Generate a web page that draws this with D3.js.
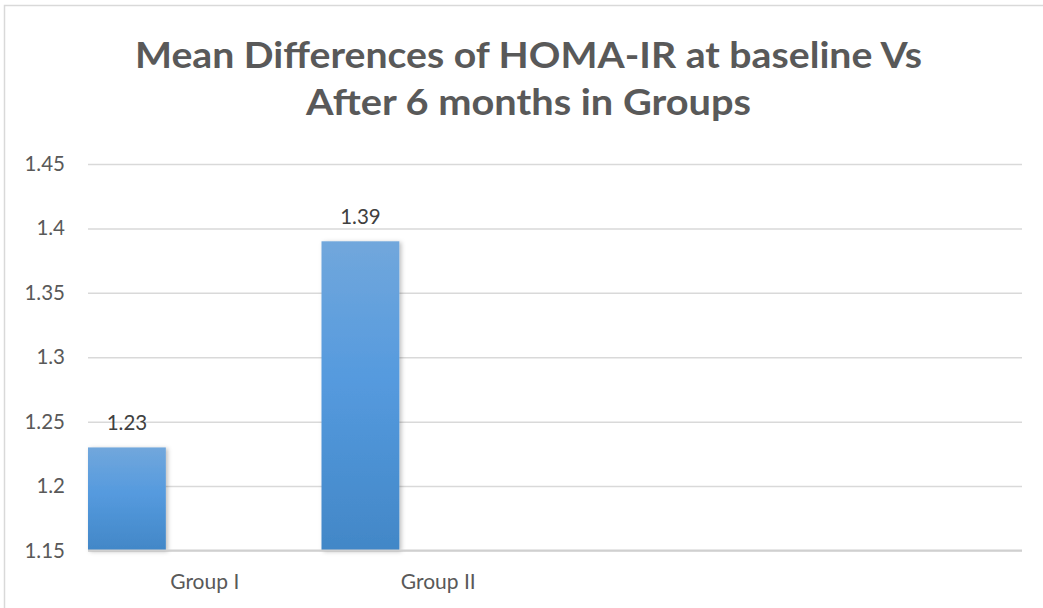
<!DOCTYPE html>
<html>
<head>
<meta charset="utf-8">
<script src="https://cdn.jsdelivr.net/npm/d3@7"></script>
<style>
  html, body { margin: 0; padding: 0; background: #fff; }
  svg { display: block; }
</style>
</head>
<body>
<script>
// ---- data ----
const titleLines = ["Mean Differences of HOMA-IR at baseline Vs", "After 6 months in Groups"];
const categories = ["Group I", "Group II", "", ""];
const values = [1.23, 1.39, null, null];
const valueLabels = ["1.23", "1.39", "", ""];
const yTicks = [1.15, 1.2, 1.25, 1.3, 1.35, 1.4, 1.45];
const yTickLabels = ["1.15", "1.2", "1.25", "1.3", "1.35", "1.4", "1.45"];
const yDomain = [1.15, 1.45];

const W = 1043, H = 608;
const FONT = "Lato, 'Open Sans', sans-serif";
const svg = d3.select("body").append("svg").attr("width", W).attr("height", H);

const defs = svg.append("defs");
const grad = defs.append("linearGradient").attr("id", "barGrad")
  .attr("x1", 0).attr("y1", 0).attr("x2", 0).attr("y2", 1);
grad.append("stop").attr("offset", "0%").attr("stop-color", "#71a7dc");
grad.append("stop").attr("offset", "45%").attr("stop-color", "#559ade");
grad.append("stop").attr("offset", "100%").attr("stop-color", "#4287c7");
const sh = defs.append("filter").attr("id", "shadow").attr("x", "-20%").attr("y", "-10%").attr("width", "140%").attr("height", "120%");
sh.append("feDropShadow").attr("dx", 2).attr("dy", 1).attr("stdDeviation", 2).attr("flood-color", "#000").attr("flood-opacity", 0.25);

// chart border
svg.append("rect").attr("x", 4.5).attr("y", 5.5).attr("width", W + 10).attr("height", H + 10)
  .attr("fill", "#fff").attr("stroke", "#d9d9d9").attr("stroke-width", 1.5);

// title
const titleWidths = [787, 445];
titleLines.forEach((t, i) => {
  svg.append("text").attr("text-anchor", "middle")
    .attr("font-family", FONT).attr("font-weight", "bold")
    .attr("font-size", 36.5).attr("fill", "#595959")
    .attr("x", 528.5).attr("y", 68 + i * 47)
    .attr("textLength", titleWidths[i]).attr("lengthAdjust", "spacingAndGlyphs")
    .text(t);
});

const plot = { left: 88, right: 1022, top: 164, bottom: 550.5 };
const x = d3.scaleBand().domain(d3.range(categories.length)).range([plot.left, plot.right]).padding(0);
const y = d3.scaleLinear().domain(yDomain).range([plot.bottom, plot.top]);

// gridlines
const yAxis = d3.axisLeft(y).tickValues(yTicks).tickSize(-(plot.right - plot.left))
  .tickFormat((d, i) => yTickLabels[i]).tickPadding(23);
const gy = svg.append("g").attr("transform", `translate(${plot.left},0)`).call(yAxis);
gy.select(".domain").remove();
gy.selectAll(".tick line").attr("stroke", "#d9d9d9").attr("stroke-width", 1.5);
gy.selectAll(".tick text").attr("fill", "#595959").attr("font-size", 20.5)
  .attr("font-family", FONT);

// bars
const barW = x.bandwidth() / 3;
const data = categories.map((c, i) => ({ c, i, v: values[i], label: valueLabels[i] }));
svg.append("g").selectAll("rect").data(data.filter(d => d.v != null)).join("rect")
  .attr("x", d => x(d.i))
  .attr("y", d => y(d.v))
  .attr("width", barW)
  .attr("height", d => y(yDomain[0]) - y(d.v))
  .attr("fill", "url(#barGrad)")
  .attr("filter", "url(#shadow)");

// bottom axis line
svg.append("line").attr("x1", plot.left).attr("x2", plot.right)
  .attr("y1", y(yDomain[0])).attr("y2", y(yDomain[0]))
  .attr("stroke", "#d0d0d0").attr("stroke-width", 2);

// data labels
svg.append("g").selectAll("text").data(data.filter(d => d.v != null)).join("text")
  .attr("x", d => x(d.i) + barW / 2)
  .attr("y", d => y(d.v) - 17)
  .attr("text-anchor", "middle")
  .attr("font-family", FONT).attr("font-size", 20.5)
  .attr("fill", "#404040")
  .text(d => d.label);

// category labels
svg.append("g").selectAll("text").data(data).join("text")
  .attr("x", d => x(d.i) + x.bandwidth() / 2)
  .attr("y", 589)
  .attr("text-anchor", "middle")
  .attr("font-family", FONT).attr("font-size", 21)
  .attr("fill", "#595959")
  .text(d => d.c);
</script>
</body>
</html>
